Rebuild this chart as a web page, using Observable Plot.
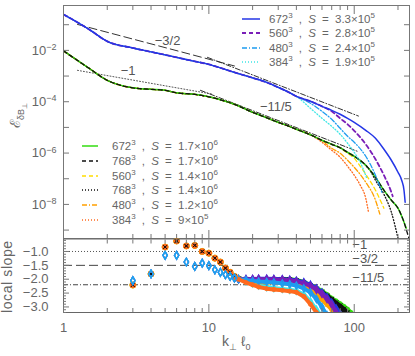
<!DOCTYPE html>
<html><head><meta charset="utf-8">
<script src="https://cdn.jsdelivr.net/npm/d3@7"></script>
<script src="https://cdn.jsdelivr.net/npm/@observablehq/plot@0.6"></script>
<style>
html,body{margin:0;padding:0;background:#fff;}
#wrap{position:relative;width:415px;height:356px;overflow:hidden;font-family:"Liberation Sans",Arial,sans-serif;color:#666;}
#wrap svg{display:block;}
.panel{position:absolute;left:0;}
.leg{position:absolute;font-size:11.5px;line-height:14px;white-space:pre;color:#666;word-spacing:3px;}
.leg sup{font-size:8px;vertical-align:0;position:relative;top:-5px;}
.sample{position:absolute;overflow:visible;}
.rot{position:absolute;transform-origin:0 0;transform:rotate(-90deg);white-space:nowrap;color:#666;}
</style></head><body>
<div id="wrap"></div>
<script>
// ---------------- data: spectra (top panel) ----------------
const kUpShared = [1,1.5,2,3,4,5,6,8,10,12,15,20,25,30,35,40];
const eUpShared = [0.252,0.0656,0.0224,0.0124,8.75e-3,6.68e-3,5.34e-3,3.73e-3,2.85e-3,2.08e-3,1.39e-3,8.51e-4,5.69e-4,3.63e-4,2.43e-4,1.62e-4];
const kBlue672 = [50,60,70,80,90,100,120,140,160,180,200,212,220,224];
const eBlue672 = [1.04e-4,6.62e-5,4.62e-5,3.24e-5,2.26e-5,1.58e-5,7.71e-6,3.77e-6,1.41e-6,5.25e-7,1.79e-7,8.75e-8,3.57e-8,1.22e-8];
const kPurple560 = [50,60,70,80,90,100,120,140,160,180,184];
const ePurple560 = [1.04e-4,6.62e-5,4.23e-5,2.26e-5,1.32e-5,7.38e-6,2.20e-6,5.74e-7,1.37e-7,2.99e-8,2.08e-8];
const kSky480 = [50,60,70,80,90,100,120,140,155];
const eSky480 = [8.67e-5,4.23e-5,2.06e-5,9.22e-6,4.51e-6,2.63e-6,7.50e-7,1.37e-7,2.99e-8];
const kCyan384 = [50,60,70,80,90,100,110,122];
const eCyan384 = [5.53e-5,2.26e-5,1.10e-5,5.40e-6,2.41e-6,1.07e-6,4.38e-7,1.04e-7];

const kLoShared = [1,1.5,2,3,4,5,6,8,10,12,15,20,25,30,35,40,50];
const eLoShared = [9.57e-3,2.00e-3,6.81e-4,3.48e-4,3.04e-4,2.78e-4,2.22e-4,1.94e-4,1.55e-4,1.19e-4,7.92e-5,3.87e-5,2.37e-5,1.58e-5,1.15e-5,8.43e-6,5.15e-6];
const kGreen672 = [60,70,80,90,100,120,140,160,180,200,220,228];
const eGreen672 = [3.15e-6,2.20e-6,1.61e-6,1.07e-6,7.50e-7,3.35e-7,1.14e-7,3.57e-8,1.46e-8,7.11e-9,2.03e-9,1.19e-9];
const kBlackDash768 = [60,70,80,90,100,120,140,160,180,200,220,230,240];
const eBlackDash768 = [3.15e-6,2.20e-6,1.61e-6,1.07e-6,7.50e-7,3.35e-7,1.14e-7,3.57e-8,1.46e-8,7.11e-9,2.03e-9,9.0e-10,4.0e-10];
const kYellow560 = [60,70,80,90,100,110,120,140,160];
const eYellow560 = [3.15e-6,2.20e-6,1.61e-6,9.82e-7,6.28e-7,3.06e-7,1.50e-7,3.57e-8,7.11e-9];
const kBlackDot768 = [60,70,80,90,100,120,130,140,160,180,200];
const eBlackDot768 = [3.15e-6,2.20e-6,1.61e-6,1.07e-6,7.50e-7,3.35e-7,1.9e-7,8.75e-8,2.49e-8,5.0e-9,4.84e-10];
const kOrange480 = [60,70,80,90,100,120,140,150];
const eOrange480 = [3.0e-6,1.54e-6,9.82e-7,5.25e-7,2.80e-7,7.31e-8,1.46e-8,4.16e-9];
const kCoral384 = [60,70,80,90,100,110,120,125];
const eCoral384 = [2.63e-6,1.29e-6,6.87e-7,3.06e-7,1.37e-7,5.58e-8,1.74e-8,5.43e-9];

// reference power laws (top panel)
const refSlope32K = [1.248, 15];   const refSlope32E = [0.1028, 2.47e-3];
const refSlope1K = [1.248, 10.6];  const refSlope1E = [1.67e-3, 1.97e-4];
const refUp115K = [9.78, 106.9];   const refUp115E = [5.34e-3, 2.77e-5];
const refLo115K = [8.75, 105.2];   const refLo115E = [2.78e-4, 1.17e-6];
const refLabelText = ["\u22123/2", "\u22121", "\u221211/5"];
const refLabelK = [5.2, 2.78, 28.9];
const refLabelE = [0.0245, 1.67e-3, 6.05e-5];

// ---------------- data: local slope (bottom panel) ----------------
const kSlopeLow = [3,4,5,6,7,8,9,10,11,12,13,14,15];
const slopeLowLowerGroup = [-2.21,-1.81,-0.84,-0.62,-0.80,-0.78,-1.00,-1.06,-1.24,-1.38,-1.60,-1.75,-1.90];
const slopeLowUpperGroup = [-2.05,-1.81,-1.14,-1.14,-1.38,-1.54,-1.42,-1.51,-1.66,-1.75,-1.84,-1.90,-1.96];
const kSlopeTail = [16,18,20,22,25,28,32,36,40,45,50,55,60,65,70,75,80,85,90,95,100];
const slGreen672 =     [-1.98,-2.00,-2.02,-2.02,-2.00,-1.99,-1.99,-2.00,-2.03,-2.10,-2.20,-2.32,-2.42,-2.55,-2.68,-2.78,-2.88,-2.98,-3.08,-3.20,-3.32];
const slBlackDash768 = [-1.98,-2.00,-2.02,-2.02,-2.01,-2.00,-2.00,-2.01,-2.05,-2.12,-2.23,-2.35,-2.46,-2.59,-2.72,-2.84,-2.95,-3.07,-3.20,-3.32,null];
const slYellow560 =    [-1.99,-2.02,-2.04,-2.05,-2.05,-2.05,-2.06,-2.08,-2.12,-2.20,-2.30,-2.44,-2.60,-2.76,-2.92,-3.08,-3.24,null,null,null,null];
const slBlackDot768 =  [-1.99,-2.01,-2.03,-2.04,-2.03,-2.02,-2.02,-2.04,-2.08,-2.15,-2.26,-2.38,-2.50,-2.63,-2.76,-2.90,-3.03,-3.17,-3.30,null,null];
const slOrange480 =    [-2.00,-2.04,-2.08,-2.10,-2.12,-2.12,-2.14,-2.16,-2.20,-2.28,-2.40,-2.56,-2.74,-2.92,-3.10,-3.28,null,null,null,null,null];
const slCoral384 =     [-2.00,-2.12,-2.20,-2.28,-2.34,-2.37,-2.40,-2.43,-2.47,-2.62,-2.90,-3.20,null,null,null,null,null,null,null,null,null];
const slBlue672 =      [-2.00,-2.00,-1.99,-1.98,-1.98,-1.99,-2.00,-2.02,-2.05,-2.11,-2.20,-2.33,-2.48,-2.65,-2.85,-3.05,-3.25,null,null,null,null];
const slPurple560 =    [-2.00,-2.00,-2.00,-1.99,-2.00,-2.01,-2.02,-2.04,-2.08,-2.15,-2.24,-2.38,-2.53,-2.72,-2.92,-3.20,null,null,null,null,null];
const slSky480 =       [-2.00,-2.03,-2.06,-2.08,-2.10,-2.12,-2.15,-2.18,-2.23,-2.33,-2.48,-2.72,-3.00,-3.30,null,null,null,null,null,null,null];
const slCyan384 =      [-2.00,-2.08,-2.15,-2.22,-2.28,-2.32,-2.35,-2.38,-2.42,-2.55,-2.80,-3.10,-3.35,null,null,null,null,null,null,null,null];
const slopeRefValues = [-1, -1.5, -2.2];
const slopeRefText = ["\u22121", "\u22123/2", "\u221211/5"];
const slopeRefLabelK = [97, 97, 97];

// legend text pieces
const legendRes = ["672","560","480","384","672","768","560","768","480","384"];
const legendS = ["3.3","2.8","2.4","1.9","1.7","1.7","1.4","1.4","1.2","9"];
const legendExp = ["5","5","5","5","6","6","6","6","6","5"];

// ticks
const xMajor = [1, 10, 100];
const xMinor = [2,3,4,5,6,7,8,9,20,30,40,50,60,70,80,90,200];
const yDecades = [1e-9,1e-8,1e-7,1e-6,1e-5,1e-4,1e-3,1e-2,1e-1];
const yLabeled = [1e-8,1e-6,1e-4,1e-2];
const slopeMajor = [-1,-1.5,-2,-2.5,-3];
const slopeMinor = [-3.2,-3.1,-2.9,-2.8,-2.7,-2.6,-2.4,-2.3,-2.2,-2.1,-1.9,-1.8,-1.7,-1.6,-1.4,-1.3,-1.2,-1.1,-0.9,-0.8,-0.7,-0.6];

// ---------------- series table (built from the arrays) ----------------
const series = [
  {id:"blue672",   grp:"up", k:kUpShared.concat(kBlue672),   e:eUpShared.concat(eBlue672),   sl:slBlue672,   color:"#2436e6", dash:null,      w:1.5, sym:"diamond"},
  {id:"purple560", grp:"up", k:kUpShared.concat(kPurple560), e:eUpShared.concat(ePurple560), sl:slPurple560, color:"#7a1fb8", dash:"4,3",     w:1.8, sym:"diamond"},
  {id:"sky480",    grp:"up", k:kUpShared.concat(kSky480),    e:eUpShared.concat(eSky480),    sl:slSky480,    color:"#1e9cf0", dash:"5,2,1,2", w:1.3, sym:"diamond"},
  {id:"cyan384",   grp:"up", k:kUpShared.concat(kCyan384),   e:eUpShared.concat(eCyan384),   sl:slCyan384,   color:"#3fe6e6", dash:"1,2",     w:1.3, sym:"diamond"},
  {id:"green672",  grp:"lo", k:kLoShared.concat(kGreen672),  e:eLoShared.concat(eGreen672),  sl:slGreen672,  color:"#33dd11", dash:null,      w:1.5, sym:"circle"},
  {id:"bdash768",  grp:"lo", k:kLoShared.concat(kBlackDash768), e:eLoShared.concat(eBlackDash768), sl:slBlackDash768, color:"#111111", dash:"4,3", w:1.3, sym:"times"},
  {id:"yellow560", grp:"lo", k:kLoShared.concat(kYellow560), e:eLoShared.concat(eYellow560), sl:slYellow560, color:"#ffdd00", dash:"4,3",     w:1.3, sym:"circle"},
  {id:"bdot768",   grp:"lo", k:kLoShared.concat(kBlackDot768), e:eLoShared.concat(eBlackDot768), sl:slBlackDot768, color:"#111111", dash:"1,2", w:1.3, sym:"times"},
  {id:"orange480", grp:"lo", k:kLoShared.concat(kOrange480), e:eLoShared.concat(eOrange480), sl:slOrange480, color:"#ffa000", dash:"5,2,1,2", w:1.3, sym:"circle"},
  {id:"coral384",  grp:"lo", k:kLoShared.concat(kCoral384),  e:eLoShared.concat(eCoral384),  sl:slCoral384,  color:"#ff6a1e", dash:"1,2",     w:1.3, sym:"circle"}
];
series.forEach((s,i) => { s.res = legendRes[i]; s.sv = legendS[i]; s.sx = legendExp[i]; });
const byId = Object.fromEntries(series.map(s => [s.id, s]));

const FONT = "Liberation Sans, Arial, sans-serif";
const X = {type:"log", domain:[1, 240]};

function edgeTicks(yMaj, yMin, majLen, minLen) {
  const o = {fill:"none", label:null, stroke:"#777"};
  return [
    Plot.axisX(xMajor, {...o, anchor:"bottom", tickSize:-8}),
    Plot.axisX(xMinor, {...o, anchor:"bottom", tickSize:-4}),
    Plot.axisX(xMajor, {...o, anchor:"top", tickSize:-8}),
    Plot.axisX(xMinor, {...o, anchor:"top", tickSize:-4}),
    Plot.axisY(yMaj, {...o, anchor:"left", tickSize:-majLen}),
    Plot.axisY(yMaj, {...o, anchor:"right", tickSize:-majLen}),
    ...(yMin ? [Plot.axisY(yMin, {...o, anchor:"left", tickSize:-minLen}), Plot.axisY(yMin, {...o, anchor:"right", tickSize:-minLen})] : [])
  ];
}

// ---------------- top panel ----------------
const topOrder = ["coral384","orange480","yellow560","bdot768","green672","bdash768","cyan384","sky480","purple560","blue672"];
const refRows = (K, E) => K.map((k,i) => ({k, e:E[i]}));
const topPlot = Plot.plot({
  width: 415, height: 239,
  marginLeft: 63, marginRight: 6, marginTop: 5, marginBottom: 1,
  x: X,
  y: {type:"log", domain:[4.7e-10, 0.56]},
  style: {background:"transparent", color:"#666", fontFamily: FONT, overflow:"visible"},
  marks: [
    Plot.line(refRows(refSlope32K, refSlope32E), {x:"k", y:"e", stroke:"#333", strokeWidth:1, strokeDasharray:"8,4"}),
    Plot.line(refRows(refSlope1K, refSlope1E), {x:"k", y:"e", stroke:"#555", strokeWidth:1, strokeDasharray:"1,2"}),
    Plot.line(refRows(refUp115K, refUp115E), {x:"k", y:"e", stroke:"#333", strokeWidth:1, strokeDasharray:"5,2,1,2"}),
    Plot.line(refRows(refLo115K, refLo115E), {x:"k", y:"e", stroke:"#333", strokeWidth:1, strokeDasharray:"5,2,1,2"}),
    ...topOrder.map(id => { const s = byId[id];
      return Plot.line(s.k.map((k,i) => ({k, e:s.e[i]})), {x:"k", y:"e", stroke:s.color, strokeWidth:s.w, strokeDasharray:s.dash, curve:"monotone-x", clip:true}); }),
    Plot.text(refLabelText.map((t,i) => ({t, k:refLabelK[i], e:refLabelE[i]})), {x:"k", y:"e", text:"t", fill:"#555", fontSize:13, fontFamily:FONT}),
    Plot.frame({stroke:"#777"}),
    ...edgeTicks(yDecades, null, 6, 3),
    Plot.axisY(yLabeled, {anchor:"left", tickSize:0, tickPadding:7, fontSize:13, label:null, fill:"#666",
      tickFormat: d => "10^" + Math.round(Math.log10(d))})
  ]
});

// ---------------- bottom panel ----------------
const tailOrder = ["cyan384","green672","bdash768","bdot768","yellow560","orange480","blue672","purple560","sky480","coral384"];
const tailRows = s => kSlopeTail.map((k,i) => ({k, v:s.sl[i]})).filter(d => d.v != null);
const lowRows = s => kSlopeLow.map((k,i) => ({k, v:(s.grp === "up" ? slopeLowUpperGroup : slopeLowLowerGroup)[i]}));
const dotOpts = (s, low) => s.sym === "diamond"
  ? {symbol:"diamond", r:low ? 2.3 : 2.2, stroke:s.color, strokeWidth:1.3, fill:"none"}
  : s.sym === "times" ? {symbol:"times", r:low ? 1.7 : 2.2, stroke:s.color, strokeWidth:1}
  : {symbol:"circle", r:low ? 3 : 2.2, fill:s.color, stroke:s.color, strokeWidth:0.5};
const lowOrder = ["green672","yellow560","orange480","coral384","bdash768","bdot768","purple560","blue672","cyan384","sky480"];
const botPlot = Plot.plot({
  width: 415, height: 118,
  marginLeft: 63, marginRight: 6, marginTop: 0.5, marginBottom: 44,
  x: X,
  y: {domain:[-3.2, -0.55]},
  style: {background:"transparent", color:"#666", fontFamily: FONT, overflow:"visible"},
  marks: [
    Plot.ruleY([slopeRefValues[0]], {stroke:"#555", strokeDasharray:"1,2"}),
    Plot.ruleY([slopeRefValues[1]], {stroke:"#444", strokeDasharray:"9,4"}),
    Plot.ruleY([slopeRefValues[2]], {stroke:"#444", strokeDasharray:"5,2,1,2"}),
    Plot.text(slopeRefText.map((t,i) => ({t, k:slopeRefLabelK[i], v:slopeRefValues[i]})), {x:"k", y:"v", text:"t", textAnchor:"start", dy:-7, fill:"#555", fontSize:13, fontFamily:FONT}),
    ...tailOrder.flatMap(id => { const s = byId[id]; const rows = tailRows(s);
      return [Plot.line(rows, {x:"k", y:"v", stroke:s.color, strokeWidth:4, clip:true}),
              Plot.dot(rows, {x:"k", y:"v", ...dotOpts(s, false), clip:true})]; }),
    ...lowOrder.map(id => { const s = byId[id]; return Plot.dot(lowRows(s), {x:"k", y:"v", ...dotOpts(s, true), clip:true}); }),
    Plot.frame({stroke:"#666"}),
    ...edgeTicks(slopeMajor, slopeMinor, 6, 3),
    Plot.axisY(slopeMajor, {anchor:"left", tickSize:0, tickPadding:15, fontSize:13, label:null, fill:"#666",
      tickFormat: d => d.toFixed(1).replace("-", "\u2212")}),
    Plot.axisX(xMajor, {anchor:"bottom", tickSize:0, tickPadding:10, fontSize:13, label:null, fill:"#666", tickFormat: d => String(d)})
  ]
});

// ---------------- assemble ----------------
const wrap = document.getElementById("wrap");
const topDiv = document.createElement("div"); topDiv.className = "panel"; topDiv.style.top = "0px"; topDiv.appendChild(topPlot);
const botDiv = document.createElement("div"); botDiv.className = "panel"; botDiv.style.top = "238px"; botDiv.appendChild(botPlot);
wrap.appendChild(topDiv); wrap.appendChild(botDiv);

// superscript exponents for the log tick labels
d3.select(topPlot).selectAll("text").each(function() {
  const t = d3.select(this); const s = t.text();
  if (/^10\^-?\d+$/.test(s)) {
    const p = s.split("^")[1].replace("-", "\u2212");
    t.text("10");
    t.append("tspan").attr("dy", "-0.5em").attr("font-size", "9px").text(p);
  }
});

// legends
function addLegend(ids, left, top0, step, lineLen, textLeft) {
  ids.forEach((id, i) => {
    const s = byId[id]; const y = top0 + i * step;
    const svg = d3.create("svg").attr("class","sample").attr("width", lineLen).attr("height", 6)
      .style("left", left + "px").style("top", (y - 3) + "px");
    svg.append("line").attr("x1",0).attr("x2",lineLen).attr("y1",3).attr("y2",3)
      .attr("stroke", s.color).attr("stroke-width", s.w).attr("stroke-dasharray", s.dash);
    wrap.appendChild(svg.node());
    const d = document.createElement("div"); d.className = "leg";
    d.style.left = textLeft + "px"; d.style.top = (y - 7) + "px";
    d.innerHTML = `${s.res}<sup>3</sup> , <i>S</i> = ${s.sv}×10<sup>${s.sx}</sup>`;
    wrap.appendChild(d);
  });
}
addLegend(["blue672","purple560","sky480","cyan384"], 242, 19, 14.3, 18, 269);
addLegend(["green672","bdash768","yellow560","bdot768","orange480","coral384"], 82, 146, 14.8, 16, 112);

// axis titles
const yl = document.createElement("div"); yl.className = "rot";
yl.style.left = "5px"; yl.style.top = "128px"; yl.style.fontSize = "14px";
yl.innerHTML = `ℰ<sub style="font-size:9px">δB<sub style="font-size:7px">⊥</sub></sub>`;
wrap.appendChild(yl);
const sl = document.createElement("div"); sl.className = "rot";
sl.style.left = "-1px"; sl.style.top = "313px"; sl.style.fontSize = "14px"; sl.style.letterSpacing = "0.6px";
sl.textContent = "local slope";
wrap.appendChild(sl);
const xl = document.createElement("div"); xl.style.position = "absolute";
xl.style.left = "222px"; xl.style.top = "333px"; xl.style.fontSize = "14px"; xl.style.color = "#666";
xl.innerHTML = `k<sub style="font-size:9px">⊥</sub> ℓ<sub style="font-size:9px">0</sub>`;
wrap.appendChild(xl);
</script>
</body></html>
